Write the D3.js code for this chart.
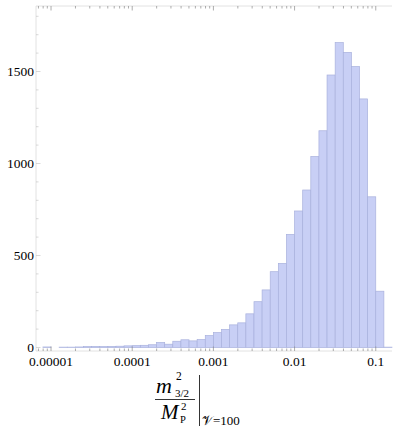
<!DOCTYPE html>
<html>
<head>
<meta charset="utf-8">
<script src="https://cdn.jsdelivr.net/npm/d3@7"></script>
<style>
  html, body { margin: 0; padding: 0; background: #fff; }
  svg { display: block; }
  text { font-family: "Liberation Serif", "Times New Roman", serif; }
</style>
</head>
<body>
<svg id="chart" width="396" height="429"></svg>
<script>
// Histogram of m_{3/2}^2 / M_P^2 in log-spaced bins (0.1 decade wide)
const binStartExp = -5.1;   // log10 of the first bin's lower edge
const binWidthExp = 0.1;    // bin width in decades
const counts = [
  3, 0, 2, 2, 3, 5, 6, 5, 6, 7,
  9, 10, 12, 15, 27, 18, 34, 42, 36, 43,
  65, 81, 98, 123, 134, 183, 249, 313, 412, 457,
  615, 742, 856, 1038, 1178, 1481, 1657, 1604, 1527, 1351,
  819, 306, 2
];
const xTickValues = [1e-5, 1e-4, 1e-3, 1e-2, 1e-1];
const xTickLabels = ["0.00001", "0.0001", "0.001", "0.01", "0.1"];
const yTickValues = [0, 500, 1000, 1500];

const svg = d3.select("#chart");
const plotL = 36, plotR = 392, plotT = 6, plotB = 351;

const x = d3.scaleLog()
  .domain([Math.pow(10, -5.185), Math.pow(10, -0.80)])
  .range([plotL, plotR]);
const y = d3.scaleLinear()
  .domain([-19, 1856])
  .range([plotB, plotT]);

const bins = counts.map((c, i) => ({
  x0: Math.pow(10, binStartExp + i * binWidthExp),
  x1: Math.pow(10, binStartExp + (i + 1) * binWidthExp),
  count: c
}));

// bars
svg.append("g")
  .selectAll("rect")
  .data(bins.filter(d => d.count > 0))
  .join("rect")
  .attr("x", d => x(d.x0))
  .attr("width", d => x(d.x1) - x(d.x0))
  .attr("y", d => y(d.count))
  .attr("height", d => y(0) - y(d.count))
  .attr("fill", "#c8cff5")
  .attr("stroke", "#a9b1dd")
  .attr("stroke-width", 0.7);

// frame
const frame = svg.append("g").attr("stroke", "#dadada").attr("stroke-width", 0.8).attr("fill", "none");
frame.append("line").attr("x1", plotL).attr("x2", plotL).attr("y1", plotT).attr("y2", plotB);
frame.append("line").attr("x1", plotL).attr("x2", plotR).attr("y1", plotT).attr("y2", plotT);
frame.append("line").attr("x1", plotL).attr("x2", plotR).attr("y1", plotB).attr("y2", plotB);

// log ticks: minor 2..9 per decade, major at decades
const logTicks = [];
for (let e = -6; e <= -1; e++) {
  for (let m = 1; m <= 9; m++) {
    const v = m * Math.pow(10, e);
    if (x(v) >= plotL && x(v) <= plotR) logTicks.push({ v, major: m === 1 });
  }
}
const tickG = svg.append("g").attr("stroke", "#8a8a8a").attr("stroke-width", 0.7);
tickG.append("g").selectAll("line")
  .data(logTicks).join("line")
  .attr("x1", d => x(d.v)).attr("x2", d => x(d.v))
  .attr("y1", plotB).attr("y2", d => plotB - (d.major ? 4.5 : 2.5));
tickG.append("g").selectAll("line")
  .data(logTicks).join("line")
  .attr("x1", d => x(d.v)).attr("x2", d => x(d.v))
  .attr("y1", plotT).attr("y2", d => plotT + (d.major ? 4.5 : 2.5));

// y ticks
const yMinor = d3.range(0, 1801, 100);
svg.append("g").attr("stroke", "#c0c0c0").attr("stroke-width", 0.6)
  .selectAll("line").data(yMinor).join("line")
  .attr("x1", plotL).attr("x2", d => plotL + (d % 500 === 0 ? 4.5 : 2.5))
  .attr("y1", d => y(d)).attr("y2", d => y(d));

// tick labels
svg.append("g").selectAll("text").data(xTickValues).join("text")
  .attr("x", d => x(d)).attr("y", 366)
  .attr("text-anchor", "middle").attr("font-size", 13.5)
  .text((d, i) => xTickLabels[i]);
svg.append("g").selectAll("text").data(yTickValues).join("text")
  .attr("x", 34).attr("y", d => y(d)).attr("dy", "0.33em")
  .attr("text-anchor", "end").attr("font-size", 13.5)
  .text(d => d);

// axis label: m_{3/2}^2 / M_P^2 evaluated at V=100
const lab = svg.append("g");
lab.append("text").attr("x", 156).attr("y", 393).attr("font-size", 22).attr("font-style", "italic").text("m");
lab.append("text").attr("x", 176).attr("y", 380).attr("font-size", 11.5).text("2");
lab.append("text").attr("x", 175).attr("y", 396.5).attr("font-size", 11).text("3/2");
lab.append("line").attr("x1", 155).attr("x2", 195).attr("y1", 399.5).attr("y2", 399.5)
  .attr("stroke", "#000").attr("stroke-width", 0.8);
lab.append("text").attr("x", 161).attr("y", 419).attr("font-size", 21).attr("font-style", "italic").text("M");
lab.append("text").attr("x", 181).attr("y", 410).attr("font-size", 11).text("2");
lab.append("text").attr("x", 180).attr("y", 422.5).attr("font-size", 10.5).text("P");
lab.append("line").attr("x1", 199.5).attr("x2", 199.5).attr("y1", 375).attr("y2", 426)
  .attr("stroke", "#000").attr("stroke-width", 0.8);
lab.append("text").attr("x", 202).attr("y", 425).attr("font-size", 13).text("\u{1D4B1}=100");
</script>
</body>
</html>
